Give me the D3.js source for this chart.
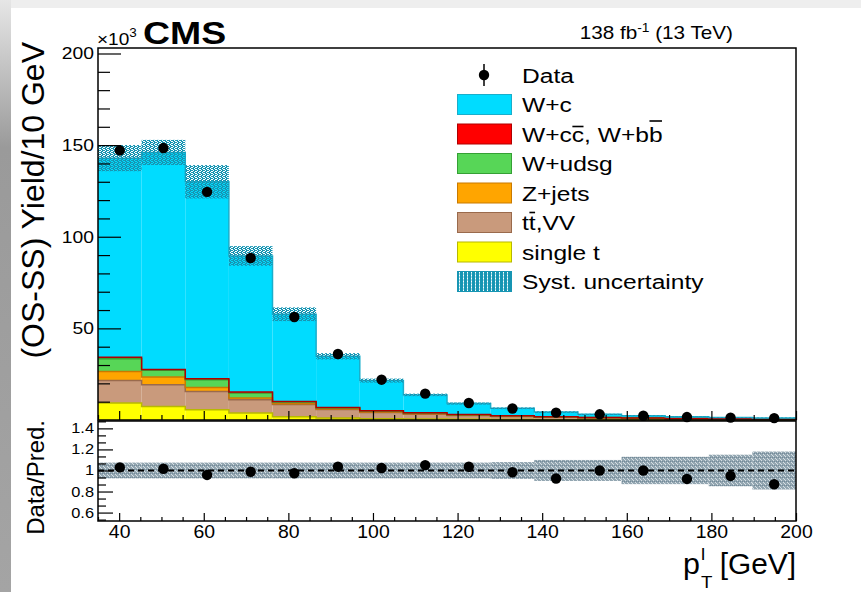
<!DOCTYPE html>
<html>
<head>
<meta charset="utf-8">
<script src="https://cdn.jsdelivr.net/npm/d3@7"></script>
<style>
  html, body { margin: 0; padding: 0; background: #fff; }
  svg text { font-family: "Liberation Sans", Arial, Helvetica, sans-serif; fill: #000; }
</style>
</head>
<body>
<svg id="chart" width="861" height="592"></svg>
<script>
// Lepton pT bins (GeV), 16 bins from 35 to 200
const binEdges = [35, 45.31, 55.63, 65.94, 76.25, 86.56, 96.88, 107.19, 117.5,
                  127.81, 138.13, 148.44, 158.75, 169.06, 179.38, 189.69, 200];

// Stacked predictions (OS-SS yield, units of 10^3), bottom to top
const singleT = [9.3, 7.4, 5.6, 3.8, 1.8, 1.1, 0.7, 0.5, 0.35, 0.25, 0.2, 0.15, 0.1, 0.08, 0.06, 0.05];
const ttVV    = [12.3, 11.9, 10.0, 7.3, 6.6, 4.6, 3.4, 2.7, 2.1, 1.7, 1.3, 1.0, 0.8, 0.6, 0.5, 0.4];
const zJets   = [4.9, 4.2, 2.2, 0.9, 0.5, 0.35, 0.25, 0.2, 0.15, 0.1, 0.08, 0.06, 0.05, 0.04, 0.03, 0.02];
const wUdsg   = [6.9, 3.6, 4.2, 2.7, 0.9, 0.6, 0.5, 0.4, 0.3, 0.25, 0.2, 0.15, 0.12, 0.1, 0.08, 0.06];
const wHeavy  = [0.8, 0.5, 0.5, 0.6, 0.3, 0.2, 0.15, 0.1, 0.08, 0.06, 0.05, 0.04, 0.03, 0.02, 0.02, 0.01];
const wC      = [108.7, 118.4, 107.5, 74.2, 47.6, 27.9, 16.5, 9.8, 6.0, 4.0, 2.5, 1.7, 1.2, 0.9, 0.66, 0.61];

// Observed data (10^3)
const dataVals = [147.1, 148.4, 124.5, 88.4, 56.2, 36.0, 22.0, 14.4, 9.3, 6.25, 4.0, 3.1, 2.3, 1.6, 1.28, 1.0];

// Relative systematic uncertainty: main panel band and ratio panel band
const systRel  = [0.05, 0.047, 0.07, 0.06, 0.065, 0.05, 0.05, 0.05, 0.06, 0.07, 0.08, 0.09, 0.10, 0.11, 0.12, 0.14];
const ratioRel = [0.075, 0.075, 0.075, 0.075, 0.075, 0.075, 0.075, 0.075, 0.075, 0.08, 0.10, 0.10, 0.13, 0.13, 0.15, 0.18];

// Axis ticks
const xTicks = [40, 60, 80, 100, 120, 140, 160, 180, 200];
const yTicks = [50, 100, 150, 200];
const rTicks = [0.6, 0.8, 1, 1.2, 1.4];

const components = [
  { name: "single t",   vals: singleT, fill: "#ffff00", edge: "#b8b800" },
  { name: "tt,VV",      vals: ttVV,    fill: "#c99a7c", edge: "#9a6a4c" },
  { name: "Z+jets",     vals: zJets,   fill: "#ffa500", edge: "#c97a00" },
  { name: "W+udsg",     vals: wUdsg,   fill: "#57d657", edge: "#35a035" },
  { name: "W+cc, W+bb", vals: wHeavy,  fill: "#ff0000", edge: "#b00000" },
  { name: "W+c",        vals: wC,      fill: "#00dcff", edge: "#1aaecb" }
];

const SX = 1.17;   // horizontal glyph stretch used for all horizontal text
const FONT = "Liberation Sans, Arial, sans-serif";

const svg = d3.select("#chart");
const defs = svg.append("defs");

// Left/top border strip of the canvas
const grad = defs.append("linearGradient").attr("id", "sideGrad")
  .attr("x1", 0).attr("y1", 0).attr("x2", 0).attr("y2", 1);
grad.append("stop").attr("offset", "0%").attr("stop-color", "#e6e6e6");
grad.append("stop").attr("offset", "25%").attr("stop-color", "#9a9a9a");
grad.append("stop").attr("offset", "100%").attr("stop-color", "#a4a4a4");
svg.append("rect").attr("x", 0).attr("y", 0).attr("width", 861).attr("height", 8).attr("fill", "#eeeeee");
svg.append("rect").attr("x", 0).attr("y", 0).attr("width", 11).attr("height", 592).attr("fill", "url(#sideGrad)");

// Hatch patterns for the uncertainty bands
const pTop = defs.append("pattern").attr("id", "systTop").attr("patternUnits", "userSpaceOnUse")
  .attr("width", 4).attr("height", 4);
[[0,0,2,1],[3,0,1,1],[1,1,2,1],[0,2,1,1],[2,2,2,1],[1,3,2,1]].forEach(r => {
  pTop.append("rect").attr("x", r[0]).attr("y", r[1]).attr("width", r[2]).attr("height", r[3]).attr("fill", "#1795b3");
});
const pRat = defs.append("pattern").attr("id", "systRatio").attr("patternUnits", "userSpaceOnUse")
  .attr("width", 4).attr("height", 4);
pRat.append("rect").attr("width", 4).attr("height", 4).attr("fill", "#93a6b1");
[[1,0],[3,2],[0,3]].forEach(p => pRat.append("rect").attr("x", p[0]).attr("y", p[1])
  .attr("width", 1).attr("height", 1).attr("fill", "#d6dfe4"));
[[2,1],[0,1]].forEach(p => pRat.append("rect").attr("x", p[0]).attr("y", p[1])
  .attr("width", 1).attr("height", 1).attr("fill", "#738a99"));
const legPat = defs.append("pattern").attr("id", "systLeg").attr("patternUnits", "userSpaceOnUse")
  .attr("width", 4).attr("height", 3);
legPat.append("rect").attr("width", 3).attr("height", 3).attr("fill", "#1795b3");
legPat.append("rect").attr("x", 3).attr("width", 1).attr("height", 2).attr("fill", "#a9dce8");

// Scales
const x = d3.scaleLinear().domain([35, 200]).range([98, 796]);
const yTop = d3.scaleLinear().domain([0, 203]).range([420, 48]);
const yRat = d3.scaleLinear().domain([0.52, 1.47]).range([521, 421]);

const nb = wC.length;
const bins = d3.range(nb).map(i => ({ i, x0: binEdges[i], x1: binEdges[i + 1], xc: (binEdges[i] + binEdges[i + 1]) / 2 }));

// Cumulative stack
let cum = new Array(nb).fill(0);
const layers = components.map(c => {
  const lo = cum.slice();
  const hi = cum.map((v, i) => v + c.vals[i]);
  cum = hi;
  return { ...c, lo, hi };
});
const totals = cum;

const mainG = svg.append("g");
layers.forEach(L => {
  mainG.append("g").selectAll("rect").data(bins).join("rect")
    .attr("x", d => x(d.x0)).attr("width", d => x(d.x1) - x(d.x0))
    .attr("y", d => yTop(L.hi[d.i])).attr("height", d => yTop(L.lo[d.i]) - yTop(L.hi[d.i]))
    .attr("fill", L.fill);
});
// Step outlines of each stacked layer
const stepLine = d3.line().x(d => x(d[0])).y(d => yTop(d[1])).curve(d3.curveStepAfter);
layers.forEach(L => {
  const pts = bins.map(d => [d.x0, L.hi[d.i]]);
  pts.push([200, L.hi[nb - 1]]);
  mainG.append("path").attr("d", stepLine(pts)).attr("fill", "none")
    .attr("stroke", L.edge).attr("stroke-width", 1.5);
});

// Systematic band on the total prediction
mainG.append("g").selectAll("rect").data(bins).join("rect")
  .attr("x", d => x(d.x0)).attr("width", d => x(d.x1) - x(d.x0))
  .attr("y", d => yTop(totals[d.i] * (1 + systRel[d.i])))
  .attr("height", d => yTop(totals[d.i] * (1 - systRel[d.i])) - yTop(totals[d.i] * (1 + systRel[d.i])))
  .attr("fill", "url(#systTop)");

// Data points
mainG.append("g").selectAll("circle").data(bins).join("circle")
  .attr("cx", d => x(d.xc)).attr("cy", d => yTop(dataVals[d.i])).attr("r", 5.2).attr("fill", "#000");

// Ratio panel
const ratG = svg.append("g");
ratG.append("g").selectAll("rect").data(bins).join("rect")
  .attr("x", d => x(d.x0)).attr("width", d => x(d.x1) - x(d.x0))
  .attr("y", d => yRat(1 + ratioRel[d.i]))
  .attr("height", d => yRat(1 - ratioRel[d.i]) - yRat(1 + ratioRel[d.i]))
  .attr("fill", "url(#systRatio)");
ratG.append("line").attr("x1", x(35)).attr("x2", x(200)).attr("y1", yRat(1)).attr("y2", yRat(1))
  .attr("stroke", "#000").attr("stroke-width", 2).attr("stroke-dasharray", "6,4");
ratG.append("g").selectAll("circle").data(bins).join("circle")
  .attr("cx", d => x(d.xc)).attr("cy", d => yRat(dataVals[d.i] / totals[d.i])).attr("r", 5.2).attr("fill", "#000");

// Axes
function styleAxis(g) {
  g.select(".domain").remove();
  g.selectAll(".tick line").attr("stroke", "#000").attr("stroke-width", 1.2);
}
function stretchLabels(size, sx) {
  return g => g.selectAll(".tick text").attr("font-size", size).attr("font-family", FONT)
    .each(function () {
      const t = d3.select(this);
      const tx = +t.attr("x") || 0, ty = +t.attr("y") || 0;
      t.attr("x", 0).attr("y", 0).attr("transform", `translate(${tx},${ty}) scale(${sx},1)`);
    });
}
const minorX = d3.range(35, 201, 5).filter(v => !xTicks.includes(v));
// main panel x ticks (no labels)
svg.append("g").attr("transform", "translate(0,420)")
  .call(d3.axisBottom(x).tickValues(xTicks).tickSize(-9).tickFormat(""))
  .call(styleAxis);
svg.append("g").attr("transform", "translate(0,420)")
  .call(d3.axisBottom(x).tickValues(minorX).tickSize(-5).tickFormat(""))
  .call(styleAxis);
// main panel y ticks
svg.append("g").attr("transform", "translate(98,0)")
  .call(d3.axisLeft(yTop).tickValues(yTicks).tickSize(-23).tickPadding(4))
  .call(styleAxis)
  .call(stretchLabels(16.5, SX));
svg.append("g").attr("transform", "translate(98,0)")
  .call(d3.axisLeft(yTop).tickValues(d3.range(10, 201, 10).filter(v => v % 50 !== 0)).tickSize(-12).tickFormat(""))
  .call(styleAxis);
// ratio panel x ticks with labels
svg.append("g").attr("transform", "translate(0,521)")
  .call(d3.axisBottom(x).tickValues(xTicks).tickSize(-8).tickPadding(4))
  .call(styleAxis)
  .call(g => g.selectAll(".tick text").attr("dy", "0.75em").attr("y", 3))
  .call(stretchLabels(18, 1.08));
svg.append("g").attr("transform", "translate(0,521)")
  .call(d3.axisBottom(x).tickValues(minorX).tickSize(-4).tickFormat(""))
  .call(styleAxis);
// ratio panel y ticks
svg.append("g").attr("transform", "translate(98,0)")
  .call(d3.axisLeft(yRat).tickValues(rTicks).tickSize(-15).tickPadding(4)
    .tickFormat(d => d === 1 ? "1" : d.toFixed(1)))
  .call(styleAxis)
  .call(stretchLabels(14, SX));
const rMinor = d3.range(0.5333, 1.47, 0.2 / 3).filter(v => !rTicks.some(t => Math.abs(t - v) < 0.01));
svg.append("g").attr("transform", "translate(98,0)")
  .call(d3.axisLeft(yRat).tickValues(rMinor).tickSize(-8).tickFormat(""))
  .call(styleAxis);

// Frames
svg.append("rect").attr("x", 98).attr("y", 48).attr("width", 698).attr("height", 372)
  .attr("fill", "none").attr("stroke", "#000").attr("stroke-width", 1.5);
svg.append("rect").attr("x", 98).attr("y", 421).attr("width", 698).attr("height", 100)
  .attr("fill", "none").attr("stroke", "#000").attr("stroke-width", 1.5);

// Axis titles
svg.append("text").attr("transform", "translate(44,42) rotate(-90)").attr("text-anchor", "end")
  .attr("font-size", 32).text("(OS-SS) Yield/10 GeV");
svg.append("text").attr("transform", "translate(44,420) rotate(-90)").attr("text-anchor", "end")
  .attr("font-size", 24).text("Data/Pred.");

function stretchedText(xp, yp, size, sx, anchor) {
  return svg.append("text").attr("transform", `translate(${xp},${yp}) scale(${sx},1)`)
    .attr("text-anchor", anchor || "start").attr("font-size", size);
}
stretchedText(796, 574, 29, 1.03, "end").text("[GeV]");
stretchedText(683, 574, 29, 1.05).text("p");
stretchedText(701, 560, 17, 1.1).text("l");
stretchedText(701, 588, 17, 1.1).text("T");

// Header
const mult = stretchedText(97, 45, 17, 1.12);
mult.append("tspan").text("×10");
mult.append("tspan").attr("font-size", 12).attr("dy", -8).text("3");
stretchedText(143, 44, 32, SX).attr("font-weight", "bold").text("CMS");
const lumi = stretchedText(733, 39, 18, 1.15, "end");
lumi.append("tspan").text("138 fb");
lumi.append("tspan").attr("font-size", 12).attr("dy", -7).text("-1");
lumi.append("tspan").attr("dy", 7).text(" (13 TeV)");

// Legend
const leg = svg.append("g");
const rowY = i => 75 + i * 29.5;
leg.append("line").attr("x1", 484).attr("x2", 484).attr("y1", rowY(0) - 11).attr("y2", rowY(0) + 11)
  .attr("stroke", "#000").attr("stroke-width", 1.5);
leg.append("circle").attr("cx", 484).attr("cy", rowY(0)).attr("r", 5.2).attr("fill", "#000");

// label text with optional overlined characters: [index, height above baseline]
function legendLabel(cy, label, bars) {
  const g = leg.append("g").attr("transform", `translate(522,${cy + 7.5}) scale(${SX},1)`);
  const t = g.append("text").attr("font-size", 21).text(label);
  (bars || []).forEach(([idx, h]) => {
    const node = t.node();
    const s = node.getStartPositionOfChar(idx).x;
    const e = node.getEndPositionOfChar(idx).x;
    g.append("line").attr("x1", s + 0.5).attr("x2", e - 0.5).attr("y1", -h).attr("y2", -h)
      .attr("stroke", "#000").attr("stroke-width", 1.6);
  });
}
legendLabel(rowY(0), "Data");

const legendRows = [
  { comp: layers[5], label: "W+c" },
  { comp: layers[4], label: "W+cc, W+bb", bars: [[3, 15], [9, 20.5]] },
  { comp: layers[3], label: "W+udsg" },
  { comp: layers[2], label: "Z+jets" },
  { comp: layers[1], label: "tt,VV", bars: [[1, 17.5]] },
  { comp: layers[0], label: "single t" }
];
legendRows.forEach((r, k) => {
  const cy = rowY(k + 1);
  leg.append("rect").attr("x", 457.5).attr("y", cy - 10).attr("width", 54).attr("height", 20)
    .attr("fill", r.comp.fill).attr("stroke", r.comp.edge).attr("stroke-width", 1);
  legendLabel(cy, r.label, r.bars);
});
leg.append("rect").attr("x", 457.5).attr("y", rowY(7) - 10).attr("width", 54).attr("height", 20)
  .attr("fill", "url(#systLeg)").attr("stroke", "#1795b3").attr("stroke-width", 1);
legendLabel(rowY(7), "Syst. uncertainty");
</script>
</body>
</html>
